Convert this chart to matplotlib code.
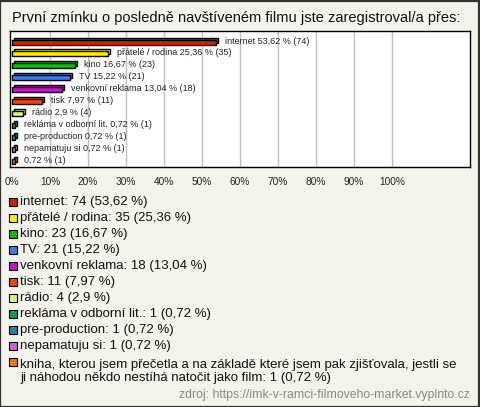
import matplotlib
matplotlib.use("Agg")
import matplotlib.pyplot as plt
from matplotlib.patches import Rectangle
from matplotlib.transforms import offset_copy

plt.rcParams['font.family'] = ['Liberation Sans', 'DejaVu Sans']

title = "První zmínku o posledně navštíveném filmu jste zaregistroval/a přes:"
categories = ["internet", "přátelé / rodina", "kino", "TV", "venkovní reklama", "tisk",
              "rádio", "rekláma v odborní lit.", "pre-production", "nepamatuju si",
              "kniha, kterou jsem přečetla a na základě které jsem pak zjišťovala, jestli se\nji náhodou někdo nestíhá natočit jako film"]
bar_names = ["internet", "přátelé / rodina", "kino", "TV", "venkovní reklama", "tisk",
             "rádio", "rekláma v odborní lit.", "pre-production", "nepamatuju si", ""]
counts = [74, 35, 23, 21, 18, 11, 4, 1, 1, 1, 1]
percents = [53.62, 25.36, 16.67, 15.22, 13.04, 7.97, 2.9, 0.72, 0.72, 0.72, 0.72]
colors = ["#cc2200", "#ffee00", "#11bb11", "#4477ee", "#cc11cc", "#ee4411",
          "#ccff77", "#119955", "#228899", "#cc66cc", "#ee7711"]
xticks = list(range(0, 101, 10))
source = "zdroj: https://imk-v-ramci-filmoveho-market.vyplnto.cz"

def fmt(v):
    s = ("%.2f" % v).rstrip('0').rstrip('.')
    return s.replace('.', ',')

W, H = 480, 407
fig = plt.figure(figsize=(W / 100, H / 100), dpi=100)
bg = "#f4f4ec"
fig.patch.set_facecolor(bg)

def fx(px):
    return px / W

def fy(py):
    return 1 - py / H

# outer border
fig.patches.append(Rectangle((0.001, 0.001), 0.997, 0.997, transform=fig.transFigure,
                             fill=False, edgecolor="#333333", lw=1.6))

fig.text(fx(12), fy(18), title, fontsize=10.5, ha='left', va='center', color="#111111")

ax = fig.add_axes([fx(10), fy(167), fx(470) - fx(10), fy(31) - fy(167)])
ax.set_facecolor("white")
ax.set_xlim(-0.53, 120.5)
n = len(counts)
ax.set_ylim(10.5, -0.924)
for xt in xticks[1:]:
    ax.axvline(xt, color="#c0c0c0", lw=1, zorder=0)

ys = list(range(n))
shadow = offset_copy(ax.transData, fig=fig, x=2, y=2, units='dots')
h = 0.42
ax.barh(ys, percents, height=h, left=0, color=colors, edgecolor="black", lw=1,
        transform=shadow, zorder=2)
ax.barh(ys, percents, height=h, left=0, color=colors, edgecolor="black", lw=1, zorder=3)
for y, name, p, c in zip(ys, bar_names, percents, counts):
    lab = (name + " " if name else "") + f"{fmt(p)} % ({c})"
    ax.annotate(lab, (p, y), xytext=(9, 1), textcoords='offset pixels',
                fontsize=6.5, va='center', ha='left', color="#222222", zorder=4)

ax.set_xticks(xticks)
ax.set_xticklabels([f"{t}%" for t in xticks], fontsize=7.3, color="#222222")
ax.tick_params(axis='x', length=0, pad=7)
ax.set_yticks([])
for s in ax.spines.values():
    s.set_color("black")
    s.set_linewidth(1)

# legend list
y0 = 202
step = 15.95
for i, (cat, c, p, col) in enumerate(zip(categories, counts, percents, colors)):
    py = y0 + step * i
    fig.patches.append(Rectangle((fx(9), fy(py + 4)), fx(8), fy(0) - fy(8),
                                 transform=fig.transFigure, facecolor=col,
                                 edgecolor="black", lw=0.8))
    label = f"{cat}: {c} ({fmt(p)} %)"
    if '\n' in label:
        fig.text(fx(20), fy(py + 10), label, fontsize=9.5, ha='left', va='center',
                 color="#111111", linespacing=1.08)
    else:
        fig.text(fx(20), fy(py), label, fontsize=9.5, ha='left', va='center',
                 color="#111111")

fig.text(fx(470), fy(395), source, fontsize=8.8, ha='right', va='center', color="#888888")

fig.savefig("out.png", dpi=100, facecolor=bg)
